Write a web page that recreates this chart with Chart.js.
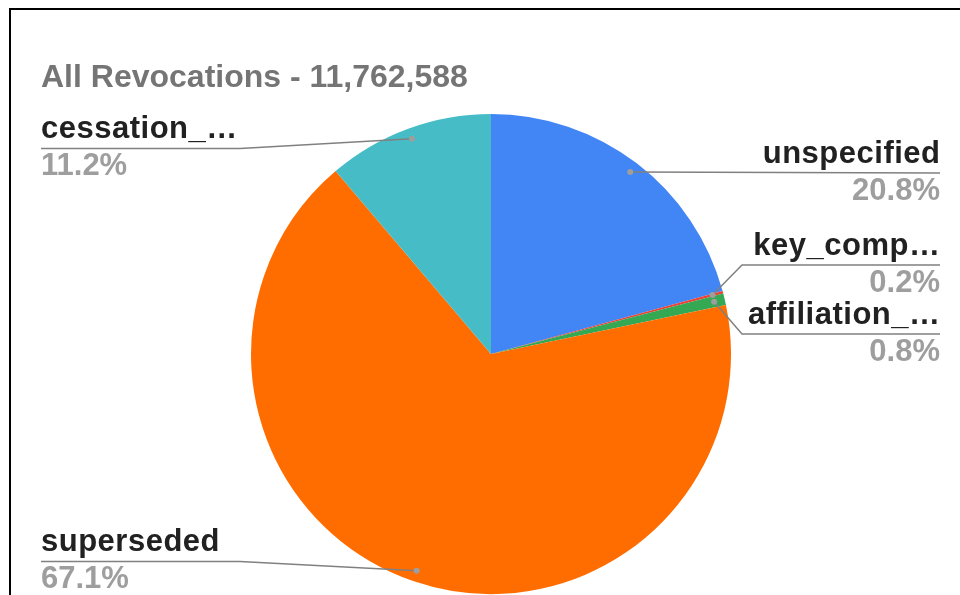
<!DOCTYPE html>
<html>
<head>
<meta charset="utf-8">
<script src="https://cdn.jsdelivr.net/npm/chart.js@4.4.1/dist/chart.umd.min.js"></script>
<style>
  html, body { margin: 0; padding: 0; background: #fff; overflow: hidden; }
  #wrap { position: relative; width: 960px; height: 595px; }
  #frame { position: absolute; left: 9px; top: 8px; right: -4px; bottom: -4px; border-top: 2px solid #000; border-left: 2px solid #000; }
  canvas { position: absolute; left: 0; top: 0; }
</style>
</head>
<body>
<div id="wrap">
  <canvas id="pie" width="960" height="595"></canvas>
  <div id="frame"></div>
</div>
<script>
// revocation reasons, clockwise from 12 o'clock
const categories = ['unspecified', 'key_comp…', 'affiliation_…', 'superseded', 'cessation_…'];
const revocations = [2444000, 20000, 92000, 7888000, 1318588];
const sliceColors = ['#4285f4', '#ea4335', '#34a853', '#ff6d01', '#46bdc6'];

const total = revocations.reduce((a, b) => a + b, 0);
const titleText = 'All Revocations - ' + total.toLocaleString('en-US');

// where each callout sits (y of the leader line, optional elbow x)
const callouts = [
    { side: 'right', lineY: 173, elbow: null },
    { side: 'right', lineY: 265, elbow: 742 },
    { side: 'right', lineY: 334, elbow: 742 },
    { side: 'left', lineY: 561.5, elbow: 240 },
    { side: 'left', lineY: 148.5, elbow: 240 }
];

const calloutPlugin = {
    id: 'callouts',
    afterDraw(chart) {
        const ctx = chart.ctx;
        const meta = chart.getDatasetMeta(0);
        ctx.save();

        ctx.fillStyle = '#757575';
        ctx.font = 'bold 32px "Liberation Sans", Arial, sans-serif';
        ctx.textAlign = 'left';
        ctx.textBaseline = 'alphabetic';
        ctx.fillText(titleText, 41, 87);

        meta.data.forEach((arc, i) => {
            const c = callouts[i];
            const mid = (arc.startAngle + arc.endAngle) / 2;
            const r = arc.outerRadius * 0.955;
            const dx = arc.x + Math.cos(mid) * r;
            const dy = arc.y + Math.sin(mid) * r;
            const edge = c.side === 'right' ? 940 : 41;

            ctx.strokeStyle = '#808080';
            ctx.lineWidth = 1.5;
            ctx.beginPath();
            ctx.moveTo(dx, dy);
            if (c.elbow !== null) ctx.lineTo(c.elbow, c.lineY);
            ctx.lineTo(edge, c.lineY);
            ctx.stroke();

            ctx.fillStyle = '#9e9e9e';
            ctx.beginPath();
            ctx.arc(dx, dy, 3, 0, Math.PI * 2);
            ctx.fill();

            ctx.textAlign = c.side === 'right' ? 'right' : 'left';
            ctx.letterSpacing = '0.5px';
            ctx.fillStyle = '#212121';
            ctx.font = 'bold 31px "Liberation Sans", Arial, sans-serif';
            ctx.fillText(categories[i], edge + (c.side === 'right' ? 0.5 : 0), c.lineY - 10.5);

            const pct = (revocations[i] / total * 100).toFixed(1) + '%';
            ctx.letterSpacing = '0px';
            ctx.fillStyle = '#9e9e9e';
            ctx.font = 'bold 31px "Liberation Sans", Arial, sans-serif';
            ctx.fillText(pct, edge, c.lineY + 26.5);
        });
        ctx.restore();
    }
};

new Chart(document.getElementById('pie').getContext('2d'), {
    type: 'pie',
    data: {
        labels: categories,
        datasets: [{
            data: revocations,
            backgroundColor: sliceColors,
            borderWidth: 0
        }]
    },
    options: {
        responsive: false,
        animation: false,
        layout: { padding: { top: 114, bottom: 1, left: 250, right: 228 } },
        plugins: {
            legend: { display: false },
            tooltip: { enabled: false },
            title: { display: false }
        }
    },
    plugins: [calloutPlugin]
});
</script>
</body>
</html>
